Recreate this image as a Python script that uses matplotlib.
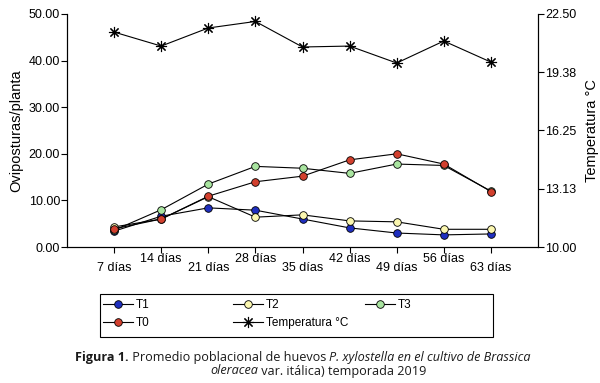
import matplotlib
matplotlib.use('Agg')
import matplotlib.pyplot as plt
from matplotlib.patches import Rectangle
import numpy as np

plt.rcParams['font.family'] = ['Liberation Sans', 'DejaVu Sans']

# data
dias = ['7 días', '14 días', '21 días', '28 días', '35 días', '42 días', '49 días', '56 días', '63 días']
t1 = [3.4, 6.6, 8.4, 7.9, 6.0, 4.1, 3.0, 2.6, 2.8]
t2 = [4.3, 6.0, 10.8, 6.4, 6.9, 5.6, 5.4, 3.8, 3.8]
t3 = [3.6, 8.0, 13.5, 17.3, 16.9, 15.8, 17.8, 17.5, 12.0]
t0 = [3.9, 6.0, 10.9, 14.0, 15.2, 18.7, 20.0, 17.8, 11.9]
temperatura = [21.53, 20.78, 21.75, 22.10, 20.73, 20.78, 19.87, 21.05, 19.92]
temp_ticks = [10.00, 13.13, 16.25, 19.38, 22.50]

x = np.arange(1, len(dias) + 1)

fig = plt.figure(figsize=(6, 3.83), dpi=100)
ax = fig.add_axes([67/600, 1-247/383, 471/600, 233/383])
ax2 = ax.twinx()

kw = dict(color='black', lw=0.8, marker='o', markersize=5.5,
          markeredgecolor='black', markeredgewidth=0.6)
l1, = ax.plot(x, t1, markerfacecolor='#1f2fbf', label='T1', **kw)
l2, = ax.plot(x, t2, markerfacecolor='#fbf7b0', label='T2', **kw)
l3, = ax.plot(x, t3, markerfacecolor='#a9e5a0', label='T3', **kw)
l0, = ax.plot(x, t0, markerfacecolor='#d2402e', label='T0', **kw)
lt, = ax2.plot(x, temperatura, color='black', lw=0.8, marker=(8, 2, 0),
               markersize=8, markeredgewidth=0.8, label='Temperatura °C')

ax.set_xlim(0, 10)
ax.set_ylim(0, 50)
ax2.set_ylim(10, 22.5)
ax.set_yticks(np.arange(0, 51, 10))
ax.set_yticklabels(['%.2f' % v for v in np.arange(0, 51, 10)])
ax2.set_yticks(temp_ticks)
ax2.set_yticklabels(['%.2f' % v for v in temp_ticks])
ax.set_xticks(x)
ax.set_xticklabels([])
for i, d in enumerate(dias):
    off = 8.8 if i % 2 == 1 else 15.3
    ax.annotate(d, (x[i], 0), xycoords=('data', 'axes fraction'),
                xytext=(0, -off), textcoords='offset points',
                ha='center', va='center', fontsize=9)

for a in (ax, ax2):
    a.spines['top'].set_visible(False)
    a.tick_params(direction='out', length=4, width=0.8, labelsize=9, pad=1)
    for s in a.spines.values():
        s.set_linewidth(0.8)

ax.set_ylabel('Oviposturas/planta', fontsize=10.5, labelpad=4)
ax2.set_ylabel('Temperatura °C', fontsize=10.5, labelpad=6)

# legend: a frame and one frameless legend per column
fig.add_artist(Rectangle((100/600, 1-337/383), 393/600, 43/383, transform=fig.transFigure,
                         facecolor='white', edgecolor='black', lw=0.8))
columns = [([l1, l0], ['T1', 'T0'], 103),
           ([l2, lt], ['T2', 'Temperatura °C'], 233),
           ([l3], ['T3'], 365)]
for handles, labels, x0 in columns:
    fig.legend(handles, labels, loc='upper left',
               bbox_to_anchor=(x0/600, 1-299/383), fontsize=8.5, frameon=False,
               handlelength=2.5, handletextpad=0.3, borderaxespad=0,
               labelspacing=0.55, borderpad=0)

# caption, built piece by piece for bold/italic parts
cap_font = ['Open Sans', 'DejaVu Sans']
fig.canvas.draw()
renderer = fig.canvas.get_renderer()

def write_line(parts, x0, y0):
    xp = x0
    for txt, weight, style in parts:
        t = fig.text(xp / 600, y0, txt, fontsize=9.1, family=cap_font,
                     weight=weight, style=style, va='center', ha='left', color='#1a1a1a')
        bb = t.get_window_extent(renderer=renderer)
        xp += bb.width

write_line([('Figura 1.', 'bold', 'normal'),
            (' Promedio poblacional de huevos ', 'normal', 'normal'),
            ('P. xylostella en el cultivo de Brassica', 'normal', 'italic')],
           75, 1 - 357/383)
write_line([('oleracea', 'normal', 'italic'),
            (' var. itálica) temporada 2019', 'normal', 'normal')],
           210, 1 - 371/383)

fig.savefig('out.png', dpi=100)
